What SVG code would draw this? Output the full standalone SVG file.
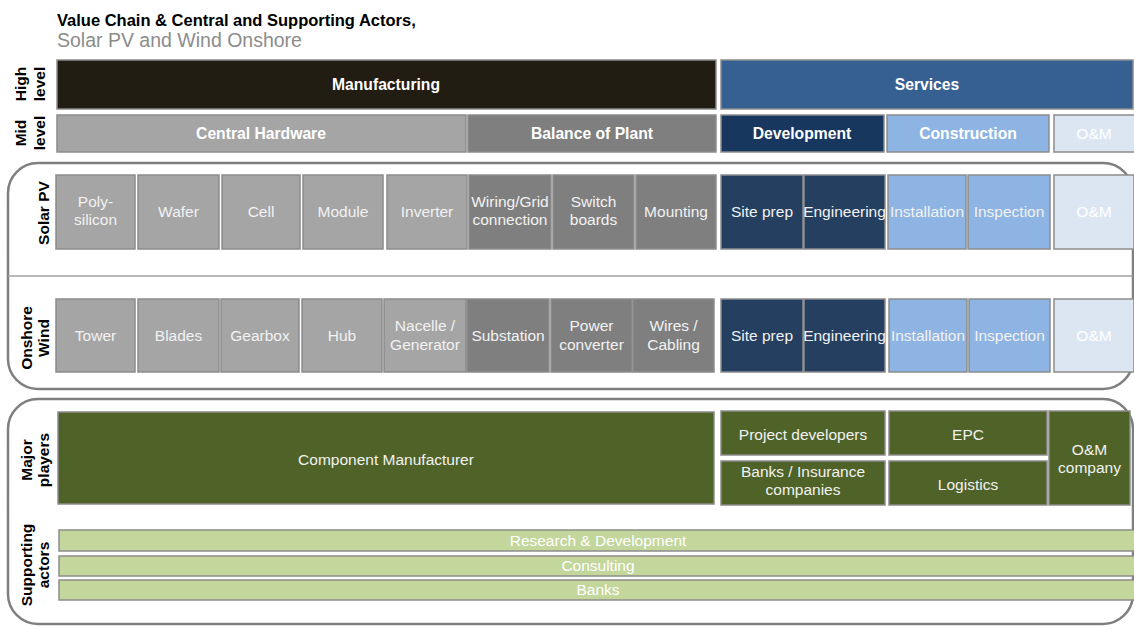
<svg xmlns="http://www.w3.org/2000/svg" width="1134" height="626" viewBox="0 0 1134 626">
  <style>
    text { font-family: "Liberation Sans", Arial, sans-serif; }
    .title { font-size: 16.5px; font-weight: bold; fill: #000; }
    .subtitle { font-size: 19.5px; fill: #8c8c8c; }
    .rowlbl { font-size: 15.5px; font-weight: bold; fill: #000; text-anchor: middle; }
    .hd { font-size: 15.7px; font-weight: bold; fill: #fff; text-anchor: middle; }
    .bx { font-size: 15.5px; fill: #f2f2f2; text-anchor: middle; }
    .lt { fill: #fff; }
    .box { stroke: #8c8c8c; stroke-width: 1.5; }
    .frame { fill: #fff; stroke: #7f7f7f; stroke-width: 2.5; }
    .manu { fill: #211d12; }
    .serv { fill: #376092; }
    .hw { fill: #a5a5a5; }
    .bop { fill: #7f7f7f; }
    .dev { fill: #17375e; }
    .dev2 { fill: #243f60; }
    .con { fill: #8eb4e3; }
    .om { fill: #dce6f2; }
    .grn { fill: #4f6228; }
    .lgrn { fill: #c3d69b; }
  </style>

  <!-- heading -->
  <text class="title" x="57" y="25.5">Value Chain &amp; Central and Supporting Actors,</text>
  <text class="subtitle" x="57" y="46.5">Solar PV and Wind Onshore</text>

  <!-- frames around technology rows and actor rows -->
  <g id="frame-tech">
    <rect class="frame" x="8" y="163" width="1125" height="226" rx="30"/>
    <line x1="8" y1="276" x2="1133" y2="276" stroke="#a0a0a0" stroke-width="1.5"/>
  </g>
  <g id="frame-actors">
    <rect class="frame" x="8" y="399" width="1125" height="225" rx="30"/>
  </g>

  <!-- row labels -->
  <g id="labels">
    <text class="rowlbl" transform="translate(26,84) rotate(-90)">High</text>
    <text class="rowlbl" transform="translate(45,84) rotate(-90)">level</text>
    <text class="rowlbl" transform="translate(26,133) rotate(-90)">Mid</text>
    <text class="rowlbl" transform="translate(45,133) rotate(-90)">level</text>
    <text class="rowlbl" transform="translate(49,213) rotate(-90)">Solar PV</text>
    <text class="rowlbl" transform="translate(32,338) rotate(-90)">Onshore</text>
    <text class="rowlbl" transform="translate(49,338) rotate(-90)">Wind</text>
    <text class="rowlbl" transform="translate(32,460) rotate(-90)">Major</text>
    <text class="rowlbl" transform="translate(49,460) rotate(-90)">players</text>
    <text class="rowlbl" transform="translate(32,565) rotate(-90)">Supporting</text>
    <text class="rowlbl" transform="translate(49,565) rotate(-90)">actors</text>
  </g>

  <!-- high level -->
  <g id="manufacturing">
    <rect class="box manu" x="57" y="60" width="659" height="49"/>
    <text class="hd" x="386" y="90">Manufacturing</text>
  </g>
  <g id="services">
    <rect class="box serv" x="721" y="60" width="412" height="49"/>
    <text class="hd" x="927" y="90">Services</text>
  </g>

  <!-- mid level -->
  <g id="central-hardware">
    <rect class="box hw" x="57" y="115" width="409" height="37"/>
    <text class="hd" x="261" y="139">Central Hardware</text>
  </g>
  <g id="balance-of-plant">
    <rect class="box bop" x="468" y="115" width="248" height="37"/>
    <text class="hd" x="592" y="139">Balance of Plant</text>
  </g>
  <g id="development">
    <rect class="box dev" x="721" y="115" width="163" height="37"/>
    <text class="hd" x="802" y="139">Development</text>
  </g>
  <g id="construction">
    <rect class="box con" x="887" y="115" width="162" height="37"/>
    <text class="hd" x="968" y="139">Construction</text>
  </g>
  <g id="om-mid">
    <rect class="box om" x="1054" y="115" width="84" height="37"/>
    <text class="bx lt" x="1094" y="139">O&amp;M</text>
  </g>

  <!-- solar PV row -->
  <g id="pv-polysilicon">
    <rect class="box hw" x="56" y="175" width="79" height="74"/>
    <text class="bx" x="95.5" y="207">Poly-</text>
    <text class="bx" x="95.5" y="225">silicon</text>
  </g>
  <g id="pv-wafer">
    <rect class="box hw" x="138" y="175" width="81" height="74"/>
    <text class="bx" x="178.5" y="217">Wafer</text>
  </g>
  <g id="pv-cell">
    <rect class="box hw" x="222" y="175" width="78" height="74"/>
    <text class="bx" x="261" y="217">Cell</text>
  </g>
  <g id="pv-module">
    <rect class="box hw" x="303" y="175" width="80" height="74"/>
    <text class="bx" x="343" y="217">Module</text>
  </g>
  <g id="pv-inverter">
    <rect class="box hw" x="387" y="175" width="80" height="74"/>
    <text class="bx" x="427" y="217">Inverter</text>
  </g>
  <g id="pv-wiring">
    <rect class="box bop" x="469" y="175" width="82" height="74"/>
    <text class="bx" x="510" y="207">Wiring/Grid</text>
    <text class="bx" x="510" y="225">connection</text>
  </g>
  <g id="pv-switch">
    <rect class="box bop" x="553" y="175" width="81" height="74"/>
    <text class="bx" x="593.5" y="207">Switch</text>
    <text class="bx" x="593.5" y="225">boards</text>
  </g>
  <g id="pv-mounting">
    <rect class="box bop" x="636" y="175" width="80" height="74"/>
    <text class="bx" x="676" y="217">Mounting</text>
  </g>
  <g id="pv-siteprep">
    <rect class="box dev2" x="721" y="175" width="82" height="74"/>
    <text class="bx" x="762" y="217">Site prep</text>
  </g>
  <g id="pv-engineering">
    <rect class="box dev2" x="804" y="175" width="81" height="74"/>
    <text class="bx" x="844.5" y="217">Engineering</text>
  </g>
  <g id="pv-installation">
    <rect class="box con" x="888" y="175" width="78" height="74"/>
    <text class="bx" x="927" y="217">Installation</text>
  </g>
  <g id="pv-inspection">
    <rect class="box con" x="968" y="175" width="82" height="74"/>
    <text class="bx" x="1009" y="217">Inspection</text>
  </g>
  <g id="pv-om">
    <rect class="box om" x="1054" y="175" width="80" height="74"/>
    <text class="bx lt" x="1094" y="217">O&amp;M</text>
  </g>

  <!-- onshore wind row -->
  <g id="w-tower">
    <rect class="box hw" x="56" y="299" width="79" height="73"/>
    <text class="bx" x="95.5" y="341">Tower</text>
  </g>
  <g id="w-blades">
    <rect class="box hw" x="138" y="299" width="81" height="73"/>
    <text class="bx" x="178.5" y="341">Blades</text>
  </g>
  <g id="w-gearbox">
    <rect class="box hw" x="221" y="299" width="78" height="73"/>
    <text class="bx" x="260" y="341">Gearbox</text>
  </g>
  <g id="w-hub">
    <rect class="box hw" x="302" y="299" width="80" height="73"/>
    <text class="bx" x="342" y="341">Hub</text>
  </g>
  <g id="w-nacelle">
    <rect class="box hw" x="384" y="299" width="82" height="73"/>
    <text class="bx" x="425" y="331">Nacelle /</text>
    <text class="bx" x="425" y="350">Generator</text>
  </g>
  <g id="w-substation">
    <rect class="box bop" x="467" y="299" width="82" height="73"/>
    <text class="bx" x="508" y="341">Substation</text>
  </g>
  <g id="w-converter">
    <rect class="box bop" x="551" y="299" width="81" height="73"/>
    <text class="bx" x="591.5" y="331">Power</text>
    <text class="bx" x="591.5" y="350">converter</text>
  </g>
  <g id="w-wires">
    <rect class="box bop" x="633" y="299" width="81" height="73"/>
    <text class="bx" x="673.5" y="331">Wires /</text>
    <text class="bx" x="673.5" y="350">Cabling</text>
  </g>
  <g id="w-siteprep">
    <rect class="box dev2" x="721" y="299" width="82" height="73"/>
    <text class="bx" x="762" y="341">Site prep</text>
  </g>
  <g id="w-engineering">
    <rect class="box dev2" x="804" y="299" width="81" height="73"/>
    <text class="bx" x="844.5" y="341">Engineering</text>
  </g>
  <g id="w-installation">
    <rect class="box con" x="889" y="299" width="78" height="73"/>
    <text class="bx" x="928" y="341">Installation</text>
  </g>
  <g id="w-inspection">
    <rect class="box con" x="969" y="299" width="81" height="73"/>
    <text class="bx" x="1009.5" y="341">Inspection</text>
  </g>
  <g id="w-om">
    <rect class="box om" x="1054" y="299" width="80" height="73"/>
    <text class="bx lt" x="1094" y="341">O&amp;M</text>
  </g>

  <!-- major players -->
  <g id="component-manufacturer">
    <rect class="box grn" x="58" y="412" width="656" height="92"/>
    <text class="bx" x="386" y="465">Component Manufacturer</text>
  </g>
  <g id="project-developers">
    <rect class="box grn" x="721" y="411" width="164" height="44"/>
    <text class="bx" x="803" y="440">Project developers</text>
  </g>
  <g id="banks-insurance">
    <rect class="box grn" x="721" y="461" width="164" height="44"/>
    <text class="bx" x="803" y="477">Banks / Insurance</text>
    <text class="bx" x="803" y="495">companies</text>
  </g>
  <g id="epc">
    <rect class="box grn" x="889" y="411" width="158" height="44"/>
    <text class="bx" x="968" y="440">EPC</text>
  </g>
  <g id="logistics">
    <rect class="box grn" x="889" y="461" width="158" height="44"/>
    <text class="bx" x="968" y="490">Logistics</text>
  </g>
  <g id="om-company">
    <rect class="box grn" x="1049" y="411" width="81" height="94"/>
    <text class="bx" x="1089.5" y="455">O&amp;M</text>
    <text class="bx" x="1089.5" y="473">company</text>
  </g>

  <!-- supporting actors -->
  <g id="research-development">
    <rect class="box lgrn" x="59" y="530" width="1080" height="21"/>
    <text class="bx lt" x="598" y="546">Research &amp; Development</text>
  </g>
  <g id="consulting">
    <rect class="box lgrn" x="59" y="556" width="1080" height="20"/>
    <text class="bx lt" x="598" y="571">Consulting</text>
  </g>
  <g id="banks">
    <rect class="box lgrn" x="59" y="580" width="1080" height="20"/>
    <text class="bx lt" x="598" y="595">Banks</text>
  </g>

  <g id="connectors"/>
</svg>
